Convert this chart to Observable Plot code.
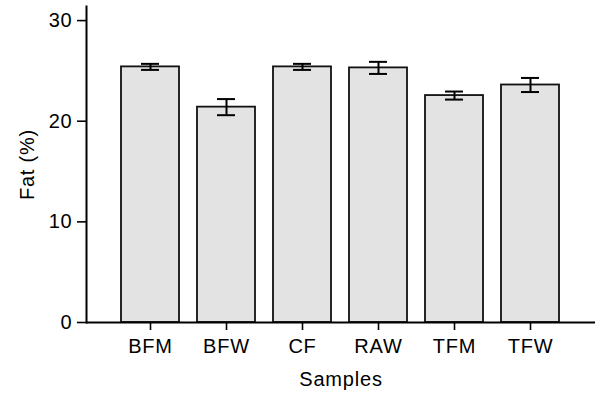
<!DOCTYPE html>
<html>
<head>
<meta charset="utf-8">
<script src="https://cdn.jsdelivr.net/npm/d3@7"></script>
<script src="https://cdn.jsdelivr.net/npm/@observablehq/plot@0.6"></script>
<style>
  body { margin: 0; background: #fff; }
  #chart svg { font-family: "Liberation Sans", Arial, sans-serif; }
  #chart svg text { letter-spacing: 0.8px; }
</style>
</head>
<body>
<div id="chart"></div>
<script>
const samples = ["BFM", "BFW", "CF", "RAW", "TFM", "TFW"];
const fat = [25.4, 21.4, 25.4, 25.3, 22.55, 23.6];
const errs = [0.3, 0.8, 0.3, 0.6, 0.4, 0.7];
const yTicks = [0, 10, 20, 30];

const data = samples.map((s, i) => ({sample: s, fat: fat[i], lo: fat[i] - errs[i], hi: fat[i] + errs[i]}));

const chart = Plot.plot({
  width: 601,
  height: 395,
  marginLeft: 86,
  marginRight: 6,
  marginTop: 6,
  marginBottom: 73,
  style: {fontSize: "20px", fontFamily: "Liberation Sans, Arial, sans-serif", color: "#000", background: "#fff"},
  x: {domain: samples, paddingInner: 0.236, paddingOuter: 0.444},
  y: {domain: [0, 31.4]},
  marks: [
    Plot.barY(data, {x: "sample", y: "fat", fill: "#e3e3e3", stroke: "#111", strokeWidth: 1.8}),
    Plot.ruleX(data, {x: "sample", y1: "lo", y2: "hi", stroke: "#000", strokeWidth: 2}),
    Plot.tickY(data, {x: "sample", y: "lo", stroke: "#000", strokeWidth: 2, insetLeft: 20, insetRight: 20}),
    Plot.tickY(data, {x: "sample", y: "hi", stroke: "#000", strokeWidth: 2, insetLeft: 20, insetRight: 20}),
    Plot.axisY({ticks: yTicks, tickSize: 9, tickPadding: 5, strokeWidth: 1.6, label: "Fat (%)", labelAnchor: "center", labelArrow: "none", labelOffset: 67, fontSize: 20}),
    Plot.axisX({tickSize: 8, tickPadding: 8, strokeWidth: 1.6, label: "Samples", labelAnchor: "center", labelArrow: "none", labelOffset: 63, fontSize: 20}),
    Plot.ruleY([0], {stroke: "#000", strokeWidth: 2}),
    Plot.frame({anchor: "left", stroke: "#000", strokeWidth: 2})
  ]
});
document.getElementById("chart").appendChild(chart);
</script>
</body>
</html>
